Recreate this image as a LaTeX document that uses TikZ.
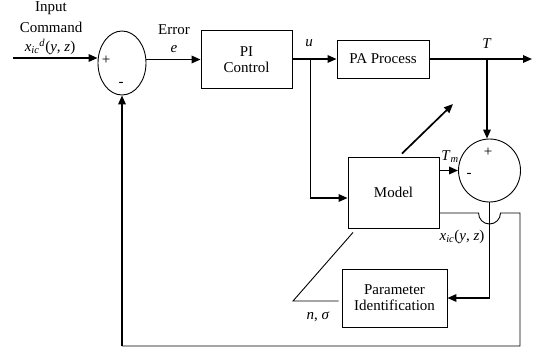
\documentclass[tikz,border=0pt]{standalone}
\usepackage{fontspec}
\setmainfont{Liberation Serif}
\usetikzlibrary{shapes.geometric, arrows.meta, positioning, calc}

\begin{document}
\begin{tikzpicture}[
    x=1pt, y=1pt,
    font=\fontsize{15}{16}\selectfont,
    block/.style={rectangle, draw, line width=0.9pt, inner sep=0pt, align=center},
    sum/.style={ellipse, draw, line width=0.9pt, inner sep=0pt},
    lbl/.style={inner sep=0pt},
    wire/.style={line width=0.9pt},
    arrow/.style={-{Triangle[length=9pt, width=7.5pt]}, line width=1.7pt}
]
    \useasboundingbox (0,0) rectangle (537,-351);

    % Forward path
    \node (sumin) [sum, minimum width=48, minimum height=64] at (122,-63) {};
    \node (pi) [block, minimum width=91, minimum height=58] at (246.5,-59.5) {PI\\Control};
    \node (pa) [block, minimum width=92, minimum height=38] at (383,-59) {PA Process};

    % Model branch
    \node (model) [block, minimum width=91, minimum height=71] at (393.5,-192.5) {Model};
    \node (sumout) [sum, minimum width=62, minimum height=63] at (489.5,-170.5) {};
    \node (param) [block, minimum width=105, minimum height=58] at (394.5,-298) {Parameter\\Identification};

    % Signs
    \node (pin) [lbl] at (106,-60) {+};
    \node (min) [lbl] at (121,-84) {-};
    \node (pout) [lbl] at (488,-152) {+};
    \node (mout) [lbl] at (469,-175) {-};

    % Labels
    \node (lin1) [lbl] at (51,-8) {Input};
    \node (lin2) [lbl] at (51,-27) {Command};
    \node (lin3) [lbl] at (50,-47) {\textit{x}\textsubscript{\textit{ic}}\textsuperscript{\textit{d}}(\textit{y}, \textit{z})};
    \node (lerr1) [lbl] at (174,-30) {Error};
    \node (lerr2) [lbl] at (174,-49) {\textit{e}};
    \node (lu) [lbl] at (309,-43) {\textit{u}};
    \node (lt) [lbl] at (487,-44) {\textit{T}};
    \node (ltm) [lbl] at (450,-157) {\textit{T}\textsubscript{\textit{m}}};
    \node (lx) [lbl] at (462,-237) {\textit{x}\textsubscript{\textit{ic}}(\textit{y}, \textit{z})};
    \node (lns) [lbl] at (318,-317) {\textit{n}, \textit{σ}};

    % Junctions and corners
    \coordinate (src) at (13,-58);
    \coordinate (ubr) at (310,-59);
    \coordinate (ucorner) at (310,-198);
    \coordinate (tbr) at (487,-59);
    \coordinate (out) at (532,-59);
    \coordinate (adapt) at (453,-104);
    \coordinate (fbright) at (520,-213);
    \coordinate (fbcorner) at (520,-346);
    \coordinate (fbleft) at (122,-346);
    \coordinate (nsig) at (293,-301);

    % Connecting arrows
    \draw [arrow] (src) -- (src -| sumin.west);
    \draw [arrow] (pi.west -| sumin.east) -- (pi.west);
    \draw [arrow] (pi.east |- pa.west) -- (pa.west);
    \draw [arrow] (pa) -- (out);
    \draw [wire] (ubr) -- (ucorner);
    \draw [arrow] (ucorner) -- (ucorner -| model.west);
    \draw [arrow] (tbr) -- (tbr |- sumout.north);
    \draw [arrow] (model.east |- sumout.west) -- (sumout.west);
    \draw [arrow] ([xshift=8.5pt,yshift=3pt]model.north) -- (adapt);
    \draw [wire] (sumout.south) -- (sumout.south |- param.east);
    \draw [arrow] (sumout.south |- param.east) -- (param.east);

    % Feedback with hop
    \draw [wire] ($(model.east)+(0,-20.5)$) -- ($(sumout.south |- fbright)+(-11,0)$)
        arc[start angle=180, end angle=360, radius=11] -- (fbright) -- (fbcorner) -- (fbleft);
    \draw [arrow] (fbleft) -- (sumin.south);

    % Identified parameters
    \draw [wire] ([xshift=-40.5pt,yshift=-4pt]model.south) -- (nsig) -- ([xshift=-3pt,yshift=-3pt]param.west);

\end{tikzpicture}
\end{document}
